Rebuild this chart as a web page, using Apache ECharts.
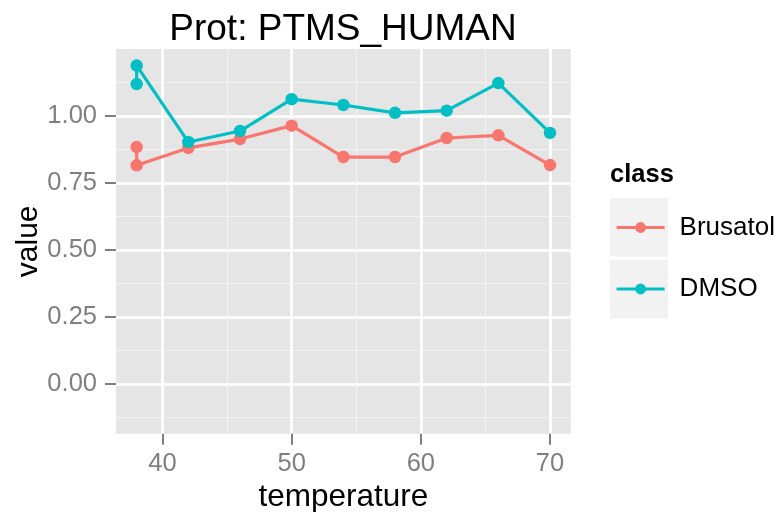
<!DOCTYPE html>
<html>
<head>
<meta charset="utf-8">
<script src="https://cdn.jsdelivr.net/npm/echarts@6/dist/echarts.min.js"></script>
<style>
html,body{margin:0;padding:0;background:#fff;}
#chart{width:779px;height:512px;}
</style>
</head>
<body>
<div id="chart"></div>
<script>
// ---- data ----
var temperature = [38, 38, 42, 46, 50, 54, 58, 62, 66, 70];
var brusatol = [0.884, 0.816, 0.881, 0.914, 0.964, 0.847, 0.847, 0.918, 0.928, 0.817];
var dmso = [1.119, 1.188, 0.903, 0.944, 1.063, 1.041, 1.012, 1.020, 1.123, 0.937];
var classNames = ['Brusatol', 'DMSO'];
var xTicks = [40, 50, 60, 70];
var xMinorTicks = [45, 55, 65];
var yTicks = [0, 0.25, 0.5, 0.75, 1.0];
var yMinorTicks = [-0.125, 0.125, 0.375, 0.625, 0.875, 1.125];
var titleText = 'Prot: PTMS_HUMAN';
var xName = 'temperature';
var yName = 'value';
var legendTitle = 'class';

function zip(xs, ys) { return xs.map(function (x, i) { return [x, ys[i]]; }); }

var FONT = '"Liberation Sans", Arial, Helvetica, sans-serif';
var colors = ['#F8766D', '#00BFC4'];
var xMin = 36.4, xMax = 71.6, yMin = -0.185, yMax = 1.25;

var chart = echarts.init(document.getElementById('chart'), null, {renderer: 'canvas'});
var option = {
  animation: false,
  backgroundColor: '#ffffff',
  textStyle: {fontFamily: FONT},
  title: [
    {text: titleText, left: 343, top: 11, padding: 0, textAlign: 'center',
     textStyle: {fontFamily: FONT, fontSize: 37, fontWeight: 'normal', color: '#000'}},
    {text: legendTitle, left: 610, top: 162, padding: 0,
     textStyle: {fontFamily: FONT, fontSize: 25.5, fontWeight: 'bold', color: '#000'}}
  ],
  graphic: [
    {type: 'rect', left: 610, top: 198, shape: {width: 58, height: 58.5}, style: {fill: '#F2F2F2'}, z: -1},
    {type: 'rect', left: 610, top: 260, shape: {width: 58, height: 58.5}, style: {fill: '#F2F2F2'}, z: -1}
  ],
  legend: {
    data: classNames,
    orient: 'vertical',
    left: 615, top: 214.5, padding: 0,
    itemWidth: 48, itemHeight: 13.5, itemGap: 35.5,
    lineStyle: {width: 3.2},
    formatter: '{a|{name}}',
    textStyle: {fontFamily: FONT, fontSize: 26, color: '#000',
      rich: {a: {fontFamily: FONT, fontSize: 26, color: '#000', padding: [0, 0, 0, 10]}}}
  },
  grid: {left: 116, right: 208.3, top: 49, bottom: 78.3, show: true,
         backgroundColor: '#E5E5E5', borderWidth: 0, containLabel: false,
         outerBoundsMode: 'none'},
  xAxis: [
    {type: 'value', min: xMin, max: xMax,
     name: xName, nameLocation: 'middle', nameGap: 48, nameMoveOverlap: false,
     nameTextStyle: {fontFamily: FONT, fontSize: 31.5, color: '#000'},
     axisLine: {show: false, onZero: false},
     axisTick: {show: true, length: 11, customValues: xTicks, lineStyle: {color: '#7F7F7F', width: 2}},
     axisLabel: {customValues: xTicks, margin: 17, fontFamily: FONT, fontSize: 25.5, color: '#7F7F7F'},
     splitLine: {show: true, lineStyle: {color: '#FFFFFF', width: 2.7}}},
    {type: 'value', min: xMin, max: xMax, position: 'bottom',
     axisLine: {show: false, onZero: false},
     axisTick: {show: false, customValues: xMinorTicks},
     axisLabel: {show: false, customValues: xMinorTicks},
     splitLine: {show: true, lineStyle: {color: '#F2F2F2', width: 1.2}}}
  ],
  yAxis: [
    {type: 'value', min: yMin, max: yMax,
     name: yName, nameLocation: 'middle', nameGap: 72, nameMoveOverlap: false,
     nameTextStyle: {fontFamily: FONT, fontSize: 30, color: '#000'},
     axisLine: {show: false, onZero: false},
     axisTick: {show: true, length: 11, customValues: yTicks, lineStyle: {color: '#7F7F7F', width: 2}},
     axisLabel: {customValues: yTicks, margin: 19, fontFamily: FONT, fontSize: 25.5, color: '#7F7F7F',
       formatter: function (v) { return v.toFixed(2); }},
     splitLine: {show: true, lineStyle: {color: '#FFFFFF', width: 2.7}}},
    {type: 'value', min: yMin, max: yMax, position: 'left',
     axisLine: {show: false, onZero: false},
     axisTick: {show: false, customValues: yMinorTicks},
     axisLabel: {show: false, customValues: yMinorTicks},
     splitLine: {show: true, lineStyle: {color: '#F2F2F2', width: 1.2}}}
  ],
  series: [
    {name: classNames[0], type: 'line', xAxisIndex: 0, yAxisIndex: 0,
     data: zip(temperature, brusatol), symbol: 'circle', symbolSize: 12.5,
     itemStyle: {color: colors[0]}, lineStyle: {color: colors[0], width: 3.2}, z: 5},
    {name: classNames[1], type: 'line', xAxisIndex: 0, yAxisIndex: 0,
     data: zip(temperature, dmso), symbol: 'circle', symbolSize: 12.5,
     itemStyle: {color: colors[1]}, lineStyle: {color: colors[1], width: 3.2}, z: 6}
  ]
};
chart.setOption(option);
</script>
</body>
</html>
